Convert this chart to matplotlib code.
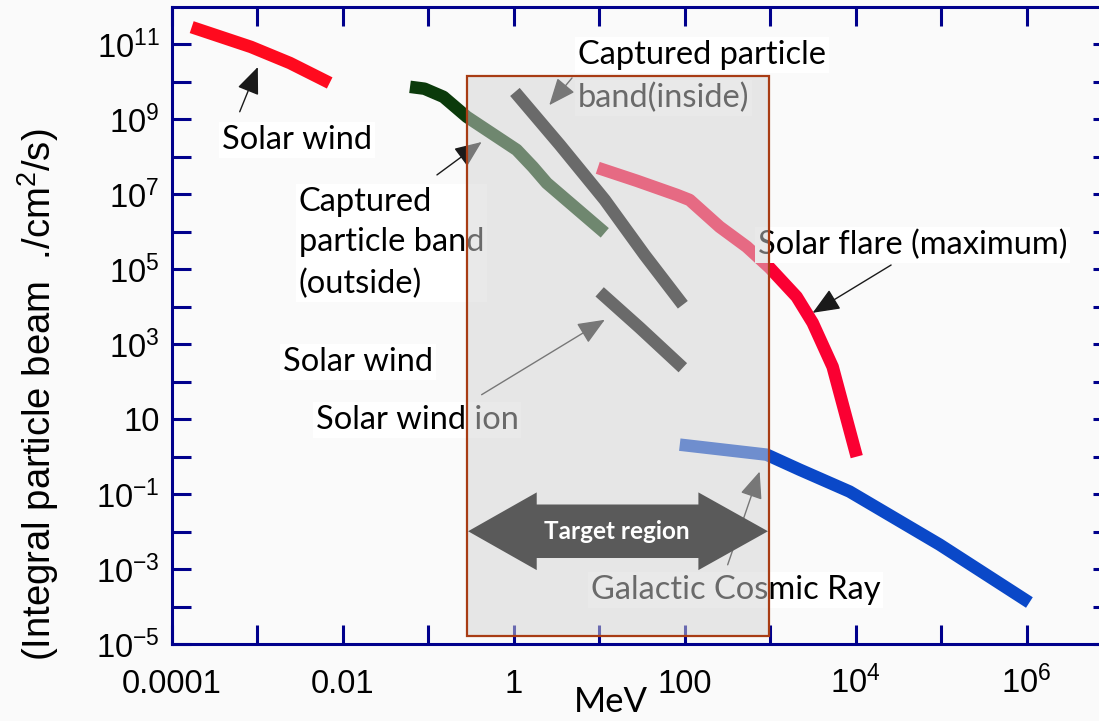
import numpy as np
import matplotlib
matplotlib.use("Agg")
import matplotlib.pyplot as plt
from matplotlib.patches import Polygon
from matplotlib.ticker import NullLocator

# energy (MeV) vs integral flux (/cm^2/s)
solar_wind_e = [1.7e-4, 8.4e-4, 2.4e-3, 7.0e-3]
solar_wind_f = [2.9e11, 8.6e10, 3.2e10, 9.4e9]

outer_belt_e = [0.061, 0.09, 0.15, 0.282, 1.08, 1.67, 2.43, 11.6]
outer_belt_f = [7.4e9, 6.6e9, 4.0e9, 1.17e9, 1.54e8, 5.4e7, 2.0e7, 9.4e5]

inner_belt_e = [1.03, 3.45, 11.6, 34, 95]
inner_belt_f = [5.4e9, 2.1e8, 7.1e6, 2.4e5, 1.13e4]

sw_ion_e = [10.1, 29.8, 95]
sw_ion_f = [2.5e4, 2750, 236]

flare_e = [9.6, 27.5, 80.5, 114, 256, 531, 986, 2040, 3140, 5380, 1.03e4]
flare_f = [5.1e7, 2.3e7, 9.7e6, 7.1e6, 1.36e6, 4e5, 1.1e5, 1.85e4, 3740, 251, 1.0]

gcr_e = [87.5, 910, 2210, 8500, 9.6e4, 1.08e6]
gcr_f = [2.09, 1.13, 0.45, 0.117, 4.5e-3, 1.28e-4]

x_ticks = [1e-4, 1e-3, 1e-2, 1e-1, 1, 10, 100, 1e3, 1e4, 1e5, 1e6]
x_labels = ["0.0001", "", "0.01", "", "1", "", "100", "", "$10^4$", "", "$10^6$"]
y_exps = list(range(-5, 12))
y_labels = ["10" if k == 1 else ("$10^{%d}$" % k if k % 2 else "") for k in y_exps]

plt.rcParams["mathtext.default"] = "regular"
navy = "#00008c"
txt_font = "Lato"

fig = plt.figure(figsize=(10.99, 7.21), dpi=100, facecolor="#fafafa")
ax = fig.add_axes([172 / 1099, 77 / 721, 940 / 1099, 637 / 721])
ax.set_facecolor("#fafafa")
ax.set_xscale("log")
ax.set_yscale("log")
ax.set_xlim(1e-4, 1e7)
ax.set_ylim(1e-5, 1e12)

for s in ax.spines.values():
    s.set_color(navy)
    s.set_linewidth(2.2)
ax.xaxis.set_minor_locator(NullLocator())
ax.yaxis.set_minor_locator(NullLocator())
ax.set_xticks(x_ticks, x_labels, family="Liberation Sans", fontsize=23.5)
ax.set_yticks([10.0 ** k for k in y_exps], y_labels, family="Liberation Sans", fontsize=23.5)
ax.tick_params(which="major", direction="in", length=13.5, width=2.2, color=navy,
               top=True, right=True)
ax.tick_params(axis="x", pad=35)
ax.tick_params(axis="y", pad=9)
for lab in ax.get_xticklabels():
    lab.set_va("baseline")

fig.text(38 / 1099, 0.452, "(Integral particle beam  ./cm$^2$/s)", rotation=90,
         ha="center", va="center", family="Liberation Sans", fontsize=27.5)
fig.text(611 / 1099, 3 / 721, "MeV", ha="center", va="bottom",
         family=txt_font, fontsize=25)

# the bands
band = dict(lw=9, solid_capstyle="butt", solid_joinstyle="round", zorder=2)
ax.plot(solar_wind_e, solar_wind_f, color="#ff0a1e", **band)
ax.plot(outer_belt_e, outer_belt_f, color="#0b3a0b", **band)
ax.plot(inner_belt_e, inner_belt_f, color="black", **band)
ax.plot(sw_ion_e, sw_ion_f, color="black", **band)
ax.plot(flare_e, flare_f, color="#fa0032", **band)
ax.plot(gcr_e, gcr_f, color="#0a48c8", **band)

# labels and pointers
lbl = dict(fontsize=23.5, family=txt_font, ha="left", va="center", zorder=2.5,
           bbox=dict(fc="white", ec="none", pad=2))
ax.text(3.85e-4, 2.84e8, "Solar wind", **lbl)
ax.text(3.05e-3, 5.1e5, "Captured\nparticle band\n(outside)", linespacing=1.45, **lbl)
ax.text(1.99e-3, 341, "Solar wind", **lbl)
ax.text(4.8e-3, 9.7, "Solar wind ion", **lbl)
ax.text(5.6, 5.2e10, "Captured particle", **lbl)
ax.text(5.6, 3.7e9, "band(inside)", **lbl)
ax.text(714, 4.5e5, "Solar flare (maximum)", **lbl)
ax.text(7.9, 2.8e-4, "Galactic Cosmic Ray", **lbl)

arrow = dict(arrowstyle="-|>,head_length=1.2,head_width=0.5", color="#1a1a1a",
             lw=1, mutation_scale=14, shrinkA=0, shrinkB=0)
pointers = [
    ((6.2e-4, 1.6e9), (1.01e-3, 2.5e10)),
    ((0.126, 3.3e7), (0.42, 2.5e8)),
    ((4.8, 1.28e10), (2.6, 2.4e9)),
    ((2.6e4, 1.3e5), (3140, 6900)),
    ((0.42, 45), (11.6, 4500)),
    ((318, 1.3e-3), (753, 0.4)),
]
for tail, tip in pointers:
    ax.annotate("", xy=tip, xytext=tail, arrowprops=arrow, zorder=2.2)

# target region box
x0, x1 = 0.28, 980
y0, y1 = 10 ** -4.79, 10 ** 10.15
ax.add_patch(Polygon([(x0, y0), (x1, y0), (x1, y1), (x0, y1)], closed=True,
                     fc=(0.83, 0.83, 0.83, 0.5), ec="#a83c14", lw=1.6, zorder=3))

# double arrow in axes fraction
yc, hb, hh = 0.177, 0.042, 0.061
xa, xb, xc, xd = 0.315, 0.388, 0.560, 0.634
darrow = [(xa, yc), (xb, yc + hh), (xb, yc + hb), (xc, yc + hb), (xc, yc + hh),
          (xd, yc), (xc, yc - hh), (xc, yc - hb), (xb, yc - hb), (xb, yc - hh)]
ax.add_patch(Polygon(darrow, closed=True, transform=ax.transAxes,
                     fc="#5a5a5a", ec="none", zorder=4))
ax.text(0.473, yc, "Target region", transform=ax.transAxes, ha="center", va="center",
        color="white", fontsize=17.5, fontweight="bold", family=txt_font, zorder=5)

fig.savefig("out.png", dpi=100, facecolor=fig.get_facecolor())
